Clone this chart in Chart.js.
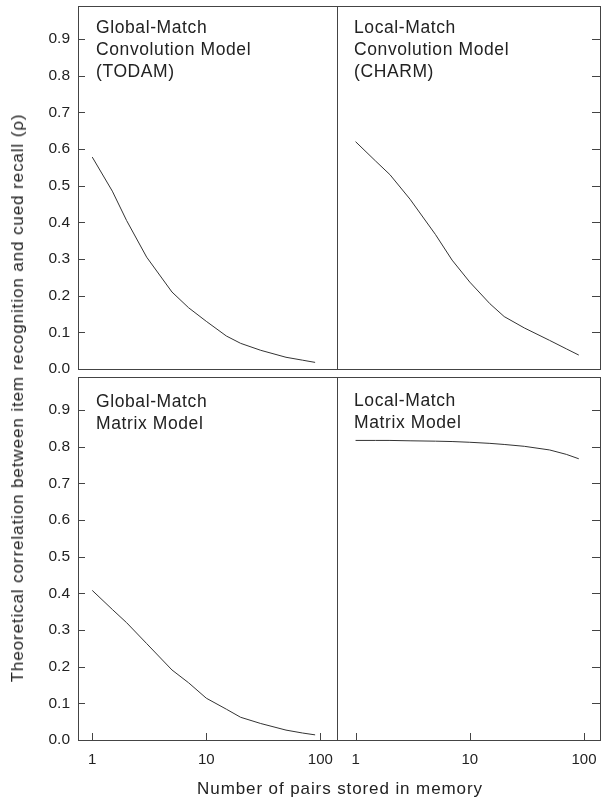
<!DOCTYPE html>
<html>
<head>
<meta charset="utf-8">
<script src="https://cdn.jsdelivr.net/npm/chart.js@4.4.1/dist/chart.umd.min.js"></script>
<style>
body { margin:0; background:#fff; width:601px; height:801px; overflow:hidden; position:relative;
       font-family:"Liberation Sans", Arial, sans-serif; color:#222; }
canvas { position:absolute; left:0; top:0; }
.lbl { position:absolute; font-size:17.5px; line-height:22px; letter-spacing:0.6px; white-space:nowrap; }
#ytitle { position:absolute; left:18px; top:398px; transform:translate(-50%,-50%) rotate(-90deg);
          font-size:17px; letter-spacing:0.9px; white-space:nowrap; }
#xtitle { position:absolute; left:340px; top:789px; transform:translate(-50%,-50%);
          font-size:17px; letter-spacing:0.9px; white-space:nowrap; }
</style>
</head>
<body>
<canvas id="c1" width="601" height="801"></canvas>
<canvas id="c2" width="601" height="801"></canvas>
<canvas id="c3" width="601" height="801"></canvas>
<canvas id="c4" width="601" height="801"></canvas>

<div class="lbl" style="left:96px;top:16px">Global-Match<br>Convolution Model<br>(TODAM)</div>
<div class="lbl" style="left:354px;top:16px">Local-Match<br>Convolution Model<br>(CHARM)</div>
<div class="lbl" style="left:96px;top:390px">Global-Match<br>Matrix Model</div>
<div class="lbl" style="left:354px;top:389px">Local-Match<br>Matrix Model</div>
<div id="ytitle">Theoretical correlation between item recognition and cued recall (ρ)</div>
<div id="xtitle">Number of pairs stored in memory</div>

<script>
// number of pairs stored (log axis)
const pairs = [1, 1.5, 2, 3, 5, 7, 10, 15, 20, 30, 50, 70, 90];

// correlation values
const todam = [0.578, 0.485, 0.405, 0.305, 0.21, 0.167, 0.13, 0.09, 0.07, 0.051, 0.032, 0.024, 0.018];
const charm = [0.62, 0.567, 0.53, 0.463, 0.367, 0.297, 0.237, 0.178, 0.143, 0.112, 0.078, 0.055, 0.038];
const globalMatrix = [0.408, 0.356, 0.32, 0.263, 0.191, 0.156, 0.114, 0.084, 0.062, 0.045, 0.027, 0.019, 0.014];
const localMatrix = [0.817, 0.817, 0.817, 0.816, 0.815, 0.814, 0.812, 0.809, 0.806, 0.801, 0.791, 0.779, 0.767];

const xTicks = [1, 10, 100];
const yTicks = [0, 0.1, 0.2, 0.3, 0.4, 0.5, 0.6, 0.7, 0.8, 0.9];

Chart.defaults.font.family = '"Liberation Sans", Arial, sans-serif';
Chart.defaults.color = '#222';

// box frame plus inward tick marks
const framePlugin = {
    id: 'frame',
    afterDatasetsDraw(chart, args, opts) {
        const { ctx, chartArea: a, scales: { x, y } } = chart;
        ctx.save();
        ctx.strokeStyle = '#444';
        ctx.lineWidth = 1;
        ctx.strokeRect(a.left + 0.5, a.top + 0.5, a.right - a.left, a.bottom - a.top);
        ctx.beginPath();
        for (const v of yTicks) {
            const py = Math.round(y.getPixelForValue(v)) + 0.5;
            if (opts.side === 'left') {
                ctx.moveTo(a.left, py); ctx.lineTo(a.left + 7, py);
            } else {
                ctx.moveTo(a.right, py); ctx.lineTo(a.right - 8, py);
            }
        }
        if (opts.xticks) {
            for (const v of xTicks) {
                const px = Math.round(x.getPixelForValue(v)) + 0.5;
                ctx.moveTo(px, a.bottom); ctx.lineTo(px, a.bottom - 7);
            }
        }
        ctx.stroke();
        ctx.restore();
    }
};

function makeChart(id, values, p) {
    const padLeft = p.left ? p.box[0] - 45 : p.box[0];
    const padBottom = p.bottom ? 801 - p.box[3] - 40 : 801 - p.box[3];
    return new Chart(document.getElementById(id), {
        type: 'line',
        data: {
            datasets: [{
                data: pairs.map((x, i) => ({ x: x, y: values[i] })),
                borderColor: '#333',
                borderWidth: 1,
                pointRadius: 0,
                tension: 0,
                fill: false
            }]
        },
        options: {
            responsive: false,
            animation: false,
            events: [],
            layout: { padding: { left: padLeft, right: 601 - p.box[1], top: p.box[2], bottom: padBottom } },
            plugins: {
                legend: { display: false },
                tooltip: { enabled: false },
                frame: { side: p.left ? 'left' : 'right', xticks: p.bottom }
            },
            scales: {
                x: {
                    type: 'logarithmic',
                    min: p.xMin,
                    max: p.xMax,
                    display: p.bottom,
                    grid: { display: false, drawTicks: false },
                    border: { display: false },
                    afterBuildTicks: s => { s.ticks = xTicks.map(v => ({ value: v })); },
                    afterFit: s => {
                        s.height = p.bottom ? 40 : 0;
                        s.paddingLeft = 0; s.paddingRight = 0;
                    },
                    ticks: {
                        callback: v => String(v),
                        font: { size: 15 },
                        padding: 11,
                        maxRotation: 0,
                        autoSkip: false
                    }
                },
                y: {
                    min: 0,
                    max: 0.99,
                    display: p.left,
                    grid: { display: false, drawTicks: false },
                    border: { display: false },
                    afterBuildTicks: s => { s.ticks = yTicks.map(v => ({ value: v })); },
                    afterFit: s => {
                        s.width = p.left ? 45 : 0;
                        s.paddingTop = 0; s.paddingBottom = 0;
                    },
                    ticks: {
                        callback: v => v.toFixed(1),
                        font: { size: 15.5 },
                        padding: 8
                    }
                }
            }
        },
        plugins: [framePlugin]
    });
}

makeChart('c1', todam,        { box: [78, 337, 6, 369],   left: true,  bottom: false, xMin: 0.75, xMax: 140 });
makeChart('c2', charm,        { box: [337, 600, 6, 369],  left: false, bottom: false, xMin: 0.688, xMax: 138 });
makeChart('c3', globalMatrix, { box: [78, 337, 377, 740], left: true,  bottom: true,  xMin: 0.75, xMax: 140 });
makeChart('c4', localMatrix,  { box: [337, 600, 377, 740], left: false, bottom: true,  xMin: 0.688, xMax: 138 });
</script>
</body>
</html>
